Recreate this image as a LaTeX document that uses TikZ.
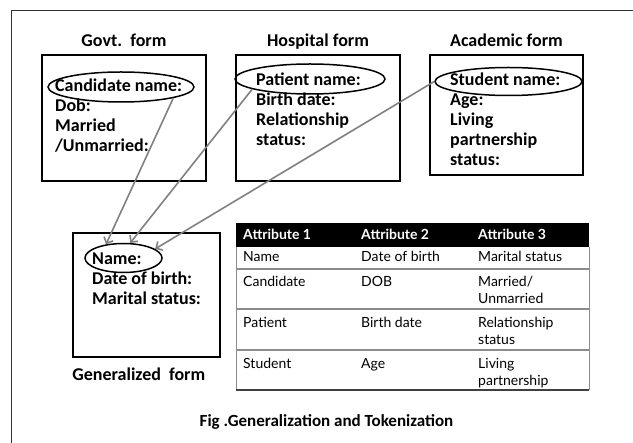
\documentclass[tikz,border=0pt]{standalone}
\usepackage{fontspec}
\setmainfont{Carlito}
\newfontfamily\gillfont{Lato}
\usetikzlibrary{positioning}
\usetikzlibrary{arrows.meta, shapes.geometric}

\begin{document}
\begin{tikzpicture}[x=1pt, y=-1pt,
  form/.style={draw, line width=1.5pt, inner sep=0pt},
  title/.style={font=\bfseries\fontsize{18}{20}\selectfont, inner sep=0pt},
  fields/.style={font=\bfseries\fontsize{18}{20}\selectfont, align=left, anchor=base west, inner sep=0pt},
  oval/.style={draw, ellipse, line width=1.5pt, inner sep=0pt},
  link/.style={draw=gray, line width=1.6pt, -{Straight Barb[length=5pt, width=10pt]}},
  cell/.style={font=\gillfont\fontsize{14}{17}\selectfont, align=left, anchor=base west, inner sep=0pt},
  headcell/.style={cell, font=\gillfont\bfseries\fontsize{14}{17}\selectfont, text=white}]
\useasboundingbox (0,0) rectangle (633,443);
% outer frame, runs off the page
\draw[line width=1pt, black!80] (633,11) -- (11,11) -- (11,443);

% source forms (fields are placed by the baseline of their last line)
\node[form, minimum width=164pt, minimum height=126pt] (govt) at (124,118) {};
\node[form, minimum width=164pt, minimum height=126pt] (hosp) at (318,118) {};
\node[form, minimum width=153pt, minimum height=120pt] (acad) at (506.5,115) {};
\node[title, above=8pt of govt, anchor=base] (govttitle) {Govt.\ \ form};
\node[title, above=8pt of hosp, anchor=base] (hosptitle) {Hospital form};
\node[title, above=8pt of acad, anchor=base] (acadtitle) {Academic form};

\node[fields] (govtfields) at (55,152) {Candidate name:\\Dob:\\Married\\/Unmarried:};
\node[fields] (hospfields) at (256,146) {Patient name:\\Birth date:\\Relationship\\status:};
\node[fields] (acadfields) at (450,166) {Student name:\\Age:\\Living\\partnership\\status:};

\node[oval, minimum width=146pt, minimum height=30pt] (gname) at (121,87) {};
\node[oval, minimum width=150pt, minimum height=30pt] (hname) at (310,79) {};
\node[oval, minimum width=147pt, minimum height=28pt] (aname) at (508.5,81.5) {};

% generalized form
\node[form, minimum width=147pt, minimum height=124pt] (gen) at (146.5,295) {};
\node[fields] (genfields) at (92,305) {Name:\\Date of birth:\\Marital status:};
\node[oval, minimum width=77pt, minimum height=29pt] (nname) at (123.5,258) {};
\node[title, below right=23pt and 0pt of gen.south west, anchor=base west] (gentitle) {Generalized\ \ form};

\draw[link] (gname.-12) -- (nname.142);
\draw[link] (hname.190) -- (nname.66);
\draw[link] (aname.west) -- (nname.16);

% token table
\fill[black] (236,223) rectangle (589,247);
\draw[black!45, line width=1pt] (236,247) -- (236,390) (589,247) -- (589,390);
\foreach \y in {269,309,350}
  \draw[black!45, line width=1.5pt] (236,\y) -- (589,\y);
\draw[black!75, line width=1.5pt] (236,390) -- (589,390);

\foreach \i/\x in {1/243,2/361,3/478}
  \node[headcell] (head\i) at (\x,240) {Attribute \i};
\foreach \y/\z/\a/\b/\c [count=\r] in {262/262/Name/Date of birth/Marital status,
    287/304/Candidate/DOB/{Married/\\Unmarried},
    328/345/Patient/Birth date/{Relationship\\status},
    369/386/Student/Age/{Living\\partnership}} {
  \node[cell] (cell\r-1) at (243,\y) {\a};
  \node[cell] (cell\r-2) at (361,\y) {\b};
  \node[cell] (cell\r-3) at (478,\z) {\c};
}

\node[title, font=\bfseries\fontsize{17}{20}\selectfont, anchor=base] (caption) at (326.5,427)
  {Fig .Generalization and Tokenization};
\end{tikzpicture}
\end{document}
